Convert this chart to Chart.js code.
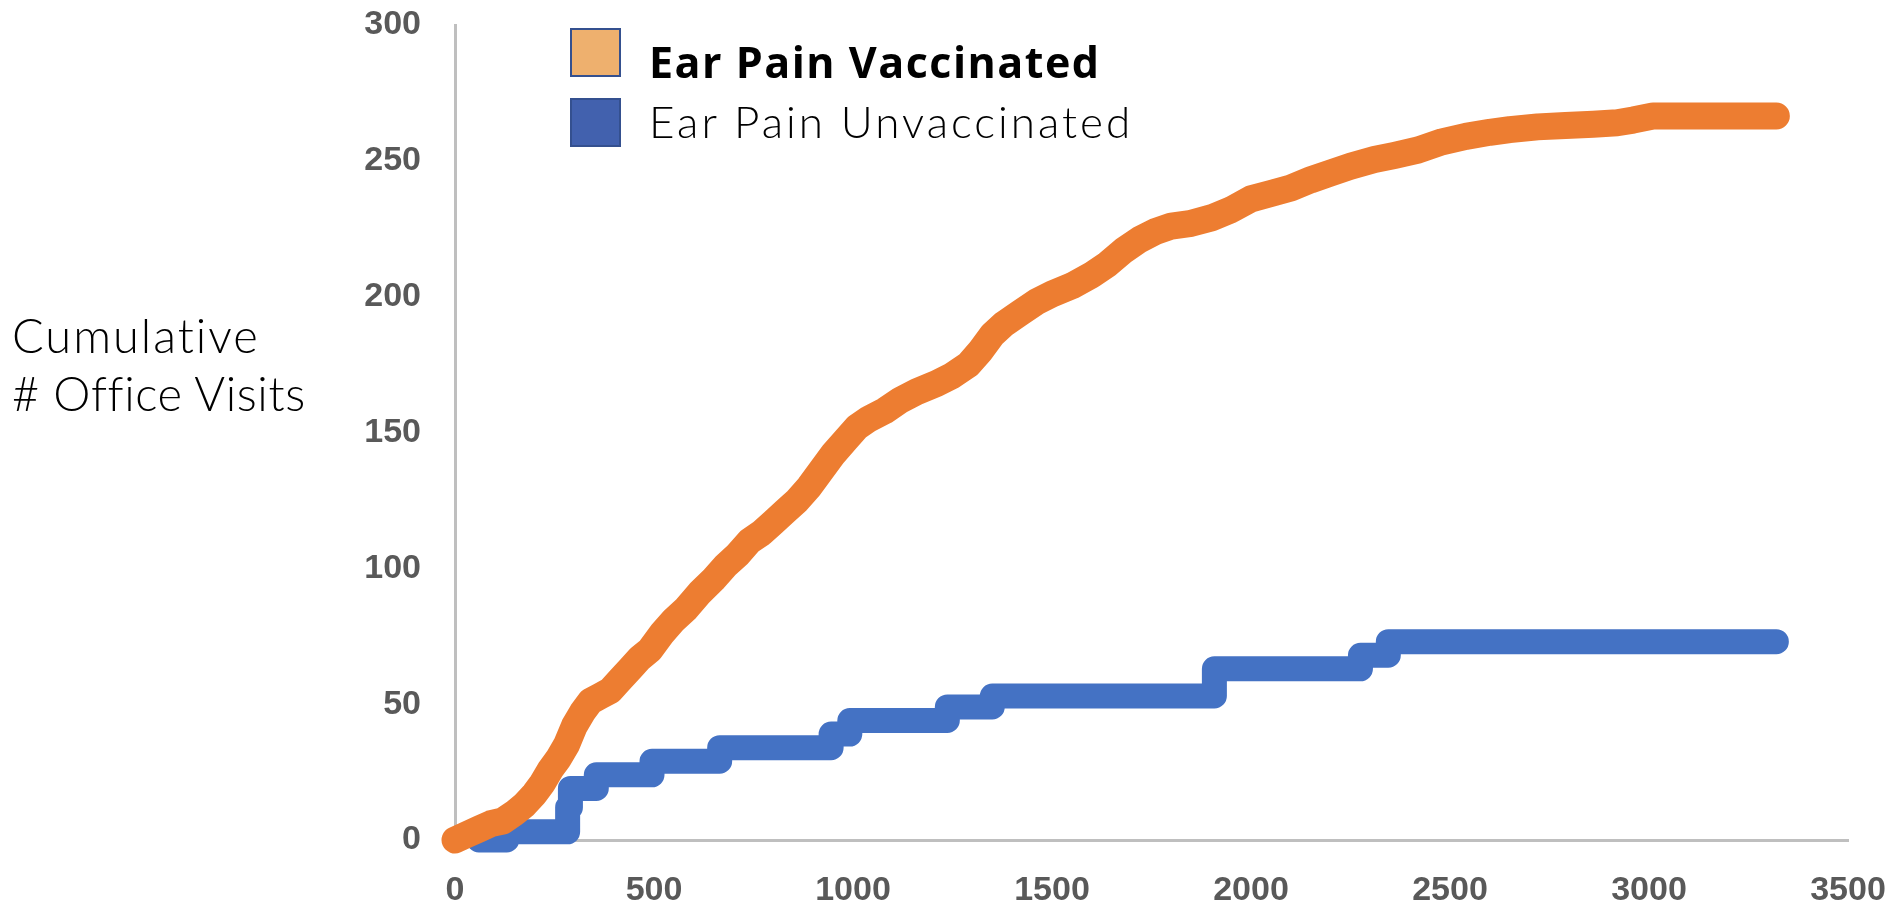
<!DOCTYPE html>
<html>
<head>
<meta charset="utf-8">
<title>Ear Pain Office Visits</title>
<script src="https://cdn.jsdelivr.net/npm/chart.js@4.4.1/dist/chart.umd.min.js"></script>
<style>
  html, body { margin: 0; padding: 0; background: #ffffff; }
  #wrap { position: relative; width: 1901px; height: 914px; overflow: hidden; }
  #chart { position: absolute; left: 0; top: 0; }
  .legend-item { position: absolute; left: 570px; height: 50px; }
  .swatch { position: absolute; left: 0; width: 47px; height: 45px; border: 2px solid #34508f; }
  .legend-text { position: absolute; left: 79px; white-space: nowrap; color: #000; }
  .y-title { position: absolute; left: 12px; white-space: nowrap; font-family: Lato, "Noto Sans", sans-serif; font-weight: 300; font-size: 47px; line-height: 47px; color: #000; }
</style>
</head>
<body>
<div id="wrap">
  <canvas id="chart" width="1901" height="914"></canvas>

  <!-- legend -->
  <div class="legend-item" style="top:28px;">
    <div class="swatch" style="background:#eeb06e;"></div>
    <div class="legend-text" style="top:4px;font-family:'Open Sans',sans-serif;font-weight:700;font-size:43px;line-height:60px;letter-spacing:1.5px;">Ear Pain Vaccinated</div>
  </div>
  <div class="legend-item" style="top:98px;">
    <div class="swatch" style="background:#4261ae;"></div>
    <div class="legend-text" style="top:1px;font-family:Lato,sans-serif;font-weight:300;font-size:44px;line-height:44px;letter-spacing:3px;">Ear Pain Unvaccinated</div>
  </div>

  <!-- y axis title, written horizontally -->
  <div class="y-title" style="top:312px;letter-spacing:2px;">Cumulative</div>
  <div class="y-title" style="top:370px;letter-spacing:0.6px;"># Office Visits</div>
</div>

<script>
// Chart data

const seriesNames = ['Ear Pain Vaccinated', 'Ear Pain Unvaccinated'];

// Vaccinated: cumulative visits (orange curve)
const vaccinatedX = [0, 30, 60, 90, 120, 150, 175, 200, 220, 240, 260, 280, 300, 320, 340, 365, 390, 415, 440, 465,
  490, 520, 550, 580, 615, 650, 680, 710, 740, 770, 800, 830, 860, 890, 920, 950, 980, 1010, 1040, 1080,
  1120, 1160, 1210, 1250, 1290, 1320, 1350, 1380, 1420, 1460, 1500, 1550, 1600, 1640, 1680, 1720, 1760, 1800, 1850, 1900,
  1950, 2000, 2050, 2100, 2150, 2200, 2250, 2310, 2360, 2420, 2480, 2540, 2600, 2650, 2720, 2790, 2860, 2920, 2960, 3010,
  3100, 3200, 3320];
const vaccinatedY = [0, 2, 4, 6, 7, 10, 13, 17, 21, 26, 30, 35, 42, 47, 51, 53, 55, 59, 63, 67,
  70, 76, 81, 85, 91, 96, 101, 105, 110, 113, 117, 121, 125, 130, 136, 142, 147, 152, 155, 158,
  162, 165, 168, 171, 175, 180, 186, 190, 194, 198, 201, 204, 208, 212, 217, 221, 224, 226, 227, 229,
  232, 236, 238, 240, 243, 245.5, 248, 250.5, 252, 254, 257, 259, 260.5, 261.5, 262.5, 263, 263.5, 264, 265, 266.5,
  266.5, 266.5, 266.5];

// Unvaccinated: step points, each x is where that level starts (blue steps)
const unvaccinatedX = [60, 130, 275, 283, 290, 355, 495, 665, 945, 992, 1237, 1350, 1908, 2275, 2345, 3320];
const unvaccinatedY = [0, 3, 3, 12, 19, 24, 29, 34, 39, 44, 49, 53, 63, 68, 73, 73];

// Axis ticks
const xTicks = [0, 500, 1000, 1500, 2000, 2500, 3000, 3500];
const yTicks = [0, 50, 100, 150, 200, 250, 300];

const seriesColors = ['#ed7d31', '#4472c4'];

function toPoints(xs, ys) {
  return xs.map((x, i) => ({ x: x, y: ys[i] }));
}

const tickFont = { family: '"Liberation Sans", Arial, sans-serif', size: 34, weight: 'bold' };
const axisLine = { display: true, color: '#bfbfbf', width: 3 };

// keep the plot area fixed: drop the label padding Chart.js adds around the axes
function fixScale(scale, size) {
  if (scale.isHorizontal()) {
    scale.height = size;
  } else {
    scale.width = size;
  }
  scale.paddingTop = 0;
  scale.paddingBottom = 0;
  scale.paddingLeft = 0;
  scale.paddingRight = 0;
}

const ctx = document.getElementById('chart').getContext('2d');

new Chart(ctx, {
  type: 'line',
  data: {
    datasets: [
      {
        label: seriesNames[0],
        data: toPoints(vaccinatedX, vaccinatedY),
        borderColor: seriesColors[0],
        backgroundColor: seriesColors[0],
        borderWidth: 27,
        borderCapStyle: 'round',
        borderJoinStyle: 'round',
        pointRadius: 0,
        tension: 0,
        clip: false
      },
      {
        label: seriesNames[1],
        data: toPoints(unvaccinatedX, unvaccinatedY),
        borderColor: seriesColors[1],
        backgroundColor: seriesColors[1],
        borderWidth: 25,
        borderCapStyle: 'round',
        borderJoinStyle: 'round',
        stepped: 'before',
        pointRadius: 0,
        clip: false
      }
    ]
  },
  options: {
    responsive: false,
    animation: false,
    devicePixelRatio: 1,
    layout: { padding: { top: 25, right: 53, left: 0, bottom: 0 } },
    plugins: {
      legend: { display: false },
      tooltip: { enabled: false }
    },
    scales: {
      x: {
        type: 'linear',
        min: xTicks[0],
        max: xTicks[xTicks.length - 1],
        afterFit: (scale) => fixScale(scale, 74),
        afterBuildTicks: (scale) => { scale.ticks = xTicks.map(v => ({ value: v })); },
        grid: { display: false, drawTicks: false },
        border: axisLine,
        ticks: { font: tickFont, color: '#595959', padding: 30, maxRotation: 0, callback: (v) => String(v) }
      },
      y: {
        type: 'linear',
        min: yTicks[0],
        max: yTicks[yTicks.length - 1],
        afterFit: (scale) => fixScale(scale, 455),
        afterBuildTicks: (scale) => { scale.ticks = yTicks.map(v => ({ value: v })); },
        grid: { display: false, drawTicks: false },
        border: axisLine,
        ticks: { font: tickFont, color: '#595959', padding: 34, callback: (v) => String(v) }
      }
    }
  }
});
</script>
</body>
</html>
